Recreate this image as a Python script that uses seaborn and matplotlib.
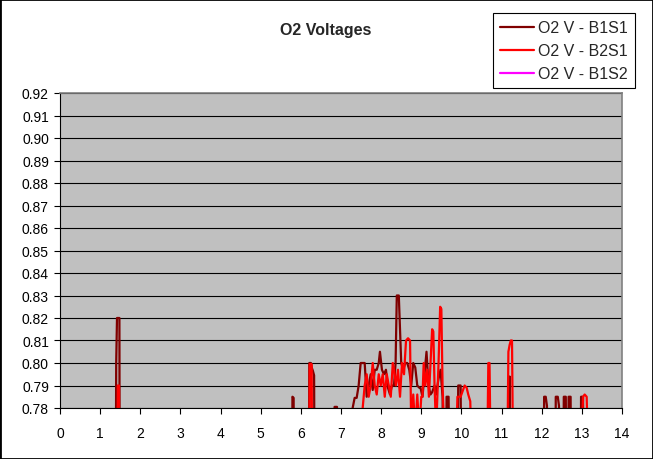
import numpy as np
import pandas as pd
import matplotlib
matplotlib.use('Agg')
import matplotlib.pyplot as plt
import seaborn as sns
from matplotlib.patches import Rectangle

# O2 sensor voltages vs time (values below 0.78 fall off the bottom of the chart)
t_b1s1 = [0.00, 1.38, 1.40, 1.42, 1.48, 1.49, 5.78, 5.79, 5.82, 5.83,
          6.20, 6.21, 6.25, 6.27, 6.30, 6.33, 6.35, 6.83, 6.84, 6.90, 6.91,
          7.25, 7.29, 7.34, 7.39, 7.44, 7.49, 7.54, 7.59, 7.64, 7.69, 7.74, 7.79,
          7.84, 7.89, 7.94, 7.97, 8.02, 8.07, 8.12, 8.17, 8.22, 8.27, 8.32, 8.36,
          8.39, 8.44, 8.47, 8.50, 8.55, 8.60, 8.65, 8.70, 8.75, 8.80, 8.85, 8.90,
          8.95, 8.98, 9.03, 9.08, 9.13, 9.18, 9.23, 9.27, 9.33, 9.37, 9.43, 9.48,
          9.53, 9.58, 9.60, 9.63, 9.68, 9.73, 9.88, 9.92, 9.98, 10.02,
          11.18, 11.20, 11.22, 12.04, 12.06, 12.10, 12.13, 12.15,
          12.33, 12.35, 12.40, 12.43, 12.45, 12.53, 12.55, 12.60, 12.62,
          12.65, 12.67, 12.72, 12.74, 12.96, 12.98, 13.03, 13.05, 14.00]
v_b1s1 = [0.700, 0.700, 0.800, 0.820, 0.820, 0.700, 0.700, 0.785, 0.7845, 0.700,
          0.700, 0.800, 0.800, 0.798, 0.7965, 0.7945, 0.700, 0.700, 0.7805, 0.7805, 0.700,
          0.700, 0.780, 0.7845, 0.7845, 0.790, 0.800, 0.800, 0.800, 0.785, 0.790, 0.795, 0.788,
          0.797, 0.797, 0.800, 0.805, 0.797, 0.795, 0.797, 0.789, 0.786, 0.790, 0.790, 0.800,
          0.830, 0.830, 0.815, 0.800, 0.797, 0.800, 0.800, 0.797, 0.790, 0.800, 0.798, 0.790,
          0.789, 0.789, 0.785, 0.795, 0.805, 0.790, 0.786, 0.787, 0.790, 0.786, 0.793, 0.797,
          0.785, 0.700, 0.700, 0.785, 0.785, 0.700, 0.700, 0.790, 0.790, 0.700,
          0.700, 0.794, 0.700, 0.700, 0.785, 0.785, 0.781, 0.700,
          0.700, 0.785, 0.785, 0.781, 0.700, 0.700, 0.785, 0.785, 0.700,
          0.700, 0.785, 0.785, 0.700, 0.700, 0.785, 0.785, 0.700, 0.700]

t_b2s1 = [0.00, 1.42, 1.44, 1.47, 1.48, 6.20, 6.22, 6.27, 6.29,
          7.48, 7.54, 7.59, 7.64, 7.69, 7.74, 7.79, 7.84, 7.89, 7.94, 7.99, 8.04,
          8.09, 8.14, 8.19, 8.24, 8.29, 8.32, 8.37, 8.42, 8.47, 8.52, 8.57, 8.62,
          8.67, 8.72, 8.75, 8.80, 8.85, 8.90, 8.95, 9.00, 9.03, 9.06, 9.10, 9.15,
          9.19, 9.23, 9.27, 9.30, 9.33, 9.37, 9.40, 9.43, 9.47, 9.50, 9.53, 9.57,
          9.88, 9.90, 9.98, 10.08, 10.13, 10.17, 10.22, 10.24,
          10.65, 10.67, 10.70, 10.72, 11.15, 11.17, 11.20, 11.23, 11.26, 11.28,
          13.00, 13.03, 13.07, 13.12, 13.14, 14.00]
v_b2s1 = [0.700, 0.700, 0.790, 0.790, 0.700, 0.700, 0.7995, 0.7995, 0.700,
          0.700, 0.780, 0.790, 0.795, 0.785, 0.790, 0.800, 0.790, 0.786, 0.795, 0.790, 0.795,
          0.785, 0.795, 0.790, 0.785, 0.800, 0.797, 0.790, 0.797, 0.785, 0.800, 0.795, 0.810,
          0.811, 0.810, 0.770, 0.786, 0.770, 0.786, 0.770, 0.785, 0.785, 0.800, 0.790, 0.797,
          0.785, 0.800, 0.815, 0.814, 0.790, 0.770, 0.785, 0.800, 0.825, 0.824, 0.790, 0.770,
          0.770, 0.785, 0.785, 0.790, 0.789, 0.786, 0.783, 0.770,
          0.770, 0.800, 0.800, 0.770, 0.770, 0.805, 0.808, 0.810, 0.810, 0.770,
          0.770, 0.785, 0.786, 0.785, 0.770, 0.770]

t_b1s2 = [0.00, 14.00]
v_b1s2 = [0.450, 0.450]

series_names = ['O2 V - B1S1', 'O2 V - B2S1', 'O2 V - B1S2']
series_colors = ['#800000', '#FF0000', '#FF00FF']

df = pd.concat([
    pd.DataFrame({'t': t_b1s1, 'v': v_b1s1, 'series': series_names[0]}),
    pd.DataFrame({'t': t_b2s1, 'v': v_b2s1, 'series': series_names[1]}),
    pd.DataFrame({'t': t_b1s2, 'v': v_b1s2, 'series': series_names[2]}),
], ignore_index=True)

sns.set_style('white')
plt.rcParams['font.family'] = ['Liberation Sans', 'DejaVu Sans']

W, H = 653, 460
fig = plt.figure(figsize=(W / 100, H / 100), dpi=100)
ax = fig.add_axes([60 / W, (H - 409) / H, 562 / W, 315 / H])
ax.set_facecolor('#C0C0C0')

for name, col in zip(series_names, series_colors):
    sub = df[df['series'] == name]
    sns.lineplot(data=sub, x='t', y='v', ax=ax, color=col, lw=1.6,
                 sort=False, estimator=None, label=name)

ax.set_xlim(0, 14)
ax.set_ylim(0.78, 0.92)
ax.set_xticks(np.arange(0, 15, 1))
ax.set_yticks(np.round(np.arange(0.78, 0.9201, 0.01), 2))
ax.set_yticklabels([f'{v:.2f}' for v in np.arange(0.78, 0.9201, 0.01)])
ax.set_xlabel('')
ax.set_ylabel('')
ax.grid(axis='y', color='black', lw=0.8)
ax.grid(axis='x', visible=False)
ax.set_axisbelow(True)

for s in ['left', 'bottom']:
    ax.spines[s].set_color('black')
    ax.spines[s].set_linewidth(0.8)
for s in ['top', 'right']:
    ax.spines[s].set_color('#808080')
    ax.spines[s].set_linewidth(1.2)
ax.tick_params(axis='both', direction='out', length=4, width=0.8,
               colors='black', labelsize=10, left=True, bottom=True)
ax.tick_params(axis='y', pad=4)
ax.tick_params(axis='x', pad=9)

fig.text(326 / W, 1 - 30 / H, 'O2 Voltages', ha='center', va='center',
         fontsize=11.5, fontweight='bold')

leg = ax.legend(loc='upper left', bbox_to_anchor=(493 / W, 1 - 14 / H),
                bbox_transform=fig.transFigure, fontsize=11.5, frameon=True,
                fancybox=False, edgecolor='black', framealpha=1,
                handlelength=2.1, handletextpad=0.25, labelspacing=0.5,
                borderpad=0.45, borderaxespad=0)
leg.get_frame().set_linewidth(0.8)
for line in leg.get_lines():
    line.set_linewidth(1.6)

fig.patches.append(Rectangle((0, 0), 1, 1, transform=fig.transFigure,
                             fill=False, edgecolor='black', lw=2))

fig.savefig('out.png', dpi=100, facecolor='white')
